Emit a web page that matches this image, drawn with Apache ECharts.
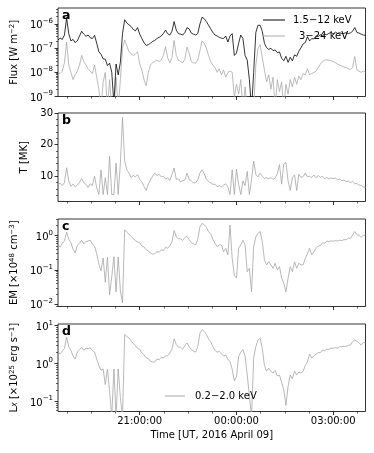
<!DOCTYPE html>
<html>
<head>
<meta charset="utf-8">
<script src="https://cdn.jsdelivr.net/npm/echarts@6/dist/echarts.min.js"></script>
<style>
  html, body { margin: 0; padding: 0; background: #fff; }
  #main { width: 374px; height: 453px; }
</style>
</head>
<body>
<div id="main"></div>
<script>
// one sample every 4 min, 18:28 UT (Apr 08) .. 04:00 UT (Apr 09)
// time axis is in minutes relative to 00:00 UT 2016 April 09
var tStart = -332, tStep = 4;

// panel a: GOES-like fluxes [W m^-2]
var flux1512 = [
  2.2e-7, 2.6e-7, 2.3e-7, 3.5e-7, 1.8e-6, 4.0e-7, 2.0e-7, 2.3e-7, 1.7e-7, 2.0e-7, 3.2e-7, 5.0e-7,
  3.8e-7, 3.1e-7, 3.5e-7, 2.7e-7, 2.5e-7, 3.4e-7, 1.6e-7, 7.1e-8, 5.6e-8, 3.6e-8, 3.5e-8, 1.9e-8,
  2.4e-8, 1.0e-8, 5e-10, 2.2e-8, 7.9e-9, 2.6e-8, 4.0e-7, 1.5e-6, 1.1e-6, 9.3e-7, 7.9e-7, 6.0e-7,
  5.2e-7, 7.1e-7, 3.8e-7, 2.5e-7, 1.7e-7, 1.3e-7, 1.4e-7, 1.6e-7, 1.9e-7, 2.1e-7, 2.5e-7, 2.8e-7,
  3.2e-7, 4.0e-7, 5.6e-7, 4.0e-7, 3.5e-7, 5.0e-7, 1.26e-6, 5.6e-7, 4.0e-7, 3.8e-7, 3.5e-7, 4.5e-7,
  7.1e-7, 6.3e-7, 4.2e-7, 3.8e-7, 3.5e-7, 4.0e-7, 1.0e-6, 1.9e-6, 1.66e-6, 1.26e-6, 8.9e-7, 6.3e-7,
  4.5e-7, 3.5e-7, 3.2e-7, 2.8e-7, 2.6e-7, 2.5e-7, 3.2e-7, 1.8e-7, 3.2e-7, 4.0e-7, 5.0e-8, 6.3e-8,
  1.6e-7, 3.5e-7, 2.5e-7, 5.0e-8, 3.2e-8, 5.0e-9, 3e-10, 1.0e-8, 4.5e-7, 8.9e-7, 8.9e-7, 5.0e-7,
  1.6e-7, 1.05e-7, 8.9e-8, 1.0e-7, 7.9e-8, 8.5e-8, 6.5e-8, 7.0e-8, 3.8e-8, 3.0e-8, 4.6e-8, 2.6e-8,
  4.2e-8, 3.0e-8, 5.3e-8, 4.6e-8, 7.5e-8, 1.05e-7, 1.5e-7, 1.7e-7, 3.0e-7, 2.0e-7, 2.5e-7, 2.4e-7,
  3.2e-7, 3.0e-7, 3.6e-7, 3.3e-7, 3.8e-7, 3.6e-7, 4.1e-7, 4.5e-7, 3.9e-7, 4.6e-7, 4.1e-7, 4.4e-7,
  4.0e-7, 4.1e-7, 4.4e-7, 4.0e-7, 4.3e-7, 5.0e-7, 7.1e-7, 4.5e-7, 4.2e-7, 3.8e-7, 3.5e-7, 3.4e-7
];
var flux324 = [
  1.0e-8, 8.9e-9, 1.12e-8, 2.5e-8, 1.8e-7, 2.0e-8, 1.0e-8, 5.0e-9, 7.9e-9, 1.12e-8, 2.0e-8, 5.0e-8,
  2.8e-8, 2.0e-8, 1.4e-8, 1.12e-8, 8.9e-9, 2.0e-8, 6.3e-9, 2.0e-9, 3e-10, 4.0e-9, 1.0e-8, 3e-10,
  5.0e-9, 3e-10, 3e-10, 6.3e-9, 3e-10, 5.0e-9, 1.0e-7, 2.2e-7, 1.26e-7, 7.1e-8, 6.0e-8, 5.0e-8,
  5.6e-8, 7.1e-8, 2.2e-8, 1.26e-8, 5.0e-9, 2.8e-9, 1.0e-8, 2.0e-8, 2.5e-8, 2.8e-8, 3.2e-8, 2.8e-8,
  3.2e-8, 5.0e-8, 1.15e-7, 4.0e-8, 2.5e-8, 4.0e-8, 2.1e-7, 5.0e-8, 3.2e-8, 2.8e-8, 2.5e-8, 3.5e-8,
  1.12e-7, 6.3e-8, 2.8e-8, 2.5e-8, 2.4e-8, 3.2e-8, 7.9e-8, 2.0e-7, 1.6e-7, 1.0e-7, 5.0e-8, 2.8e-8,
  2.0e-8, 1.6e-8, 1.0e-8, 1.4e-8, 7.9e-9, 1.26e-8, 6.3e-9, 1.0e-8, 1.12e-8, 1.0e-8, 1.0e-9, 3.2e-9,
  1.26e-9, 5.0e-9, 3e-10, 2.5e-9, 3e-10, 3e-10, 3e-10, 3e-10, 2.0e-8, 1.0e-7, 1.4e-7, 4.0e-8,
  1.26e-8, 4.0e-9, 7.9e-9, 2.0e-9, 6.3e-9, 3e-10, 5.0e-9, 1.6e-9, 4.0e-9, 3e-10, 3.2e-9, 1.26e-9,
  5.0e-9, 2.5e-9, 6.3e-9, 3.2e-9, 7.1e-9, 5.0e-9, 8.9e-9, 7.9e-9, 1.4e-8, 7.9e-9, 8.9e-9, 1.0e-8,
  1.12e-8, 1.6e-8, 2.2e-8, 2.8e-8, 3.2e-8, 3.3e-8, 3.2e-8, 3.0e-8, 2.8e-8, 2.5e-8, 2.2e-8, 2.0e-8,
  1.8e-8, 1.66e-8, 1.6e-8, 1.4e-8, 1.3e-8, 1.6e-8, 4.5e-8, 1.26e-8, 1.12e-8, 1.0e-8, 1.12e-8, 1.0e-8
];
// panel b: temperature [MK]
var temperature = [
  7.4, 7.8, 7.0, 8.0, 12.7, 8.5, 6.8, 7.5, 6.6, 7.2, 8.0, 9.3,
  8.0, 7.4, 6.4, 7.6, 7.0, 10.0, 6.3, 4.2, 12.0, 4.2, 9.5, 4.2,
  16.3, 4.2, 4.2, 14.2, 4.2, 14.0, 28.6, 14.8, 12.0, 11.0, 9.5, 10.3,
  9.8, 10.5, 9.0, 8.2, 6.8, 5.5, 7.5, 8.8, 10.0, 11.0, 10.2, 10.6,
  9.8, 10.0, 9.1, 9.5, 8.6, 10.5, 12.6, 9.0, 9.2, 8.2, 8.6, 8.8,
  11.0, 8.9, 8.6, 7.8, 8.0, 8.8, 11.0, 12.0, 10.8, 9.0, 8.3, 7.9,
  7.4, 7.5, 6.7, 7.0, 6.6, 7.2, 7.6, 6.6, 4.2, 12.0, 4.2, 12.2,
  7.4, 4.2, 8.5, 7.0, 11.5, 4.2, 9.0, 14.8, 10.6, 9.8, 11.0, 10.0,
  9.3, 9.5, 9.2, 9.6, 9.0, 9.4, 10.8, 13.7, 7.5, 13.9, 14.4, 8.5,
  5.5, 9.6, 10.4, 5.5, 10.6, 9.6, 9.9, 11.0, 9.8, 10.0, 9.6, 10.4,
  9.5, 10.2, 9.6, 10.0, 9.2, 9.6, 9.1, 9.5, 9.2, 9.4, 8.9, 9.1,
  8.6, 8.8, 8.3, 8.5, 8.0, 8.4, 7.6, 7.7, 7.2, 7.1, 6.6, 6.5
];
// panel c: emission measure [1e48 cm^-3]
var emission = [
  0.54, 0.47, 0.60, 0.71, 1.26, 0.79, 0.63, 0.40, 0.32, 0.52, 0.60, 0.74,
  0.58, 0.68, 0.70, 0.74, 0.58, 0.50, 0.30, 0.15, 0.095, 0.224, 0.044, 0.24,
  0.019, 0.063, 0.245, 0.023, 0.24, 0.025, 0.011, 1.48, 1.26, 1.12, 0.95, 0.83,
  0.72, 0.66, 0.62, 0.50, 0.47, 0.39, 0.36, 0.31, 0.29, 0.30, 0.34, 0.33,
  0.39, 0.37, 0.46, 0.43, 0.51, 0.66, 1.41, 0.93, 0.82, 0.81, 0.73, 0.89,
  0.95, 0.76, 0.63, 0.58, 0.54, 0.79, 1.82, 2.29, 2.09, 1.78, 1.32, 1.12,
  0.79, 0.60, 0.48, 0.54, 0.54, 0.34, 0.43, 0.275, 2.04, 0.22, 0.069, 0.058,
  0.43, 0.54, 0.74, 0.54, 0.089, 0.112, 0.023, 0.48, 0.93, 1.17, 1.32, 0.68,
  0.195, 0.141, 0.174, 0.141, 0.112, 0.158, 0.10, 0.126, 0.058, 0.041, 0.023, 0.058,
  0.126, 0.089, 0.174, 0.112, 0.158, 0.141, 0.141, 0.22, 0.30, 0.43, 0.275, 0.34,
  0.43, 0.50, 0.52, 0.62, 0.60, 0.70, 0.66, 0.71, 0.69, 0.73, 0.70, 0.74,
  0.72, 0.77, 0.76, 0.85, 0.84, 1.05, 1.32, 1.07, 1.02, 0.90, 1.02, 1.05
];
// panel d: soft X-ray luminosity 0.2-2.0 keV [1e25 erg s^-1]
var lumX = [
  2.0, 1.8, 2.15, 2.5, 5.0, 2.8, 2.24, 1.58, 1.32, 2.05, 2.3, 2.7,
  2.25, 2.55, 2.5, 2.6, 2.2, 2.0, 1.32, 0.89, 0.66, 0.72, 0.28, 0.72,
  0.18, 0.04, 0.72, 0.04, 0.72, 0.126, 0.04, 5.9, 5.2, 4.8, 4.0, 3.4,
  3.0, 2.5, 2.4, 1.9, 1.7, 1.42, 1.36, 1.15, 1.1, 1.1, 1.3, 1.28,
  1.45, 1.4, 1.62, 1.6, 1.9, 2.4, 4.5, 3.2, 2.7, 2.7, 2.4, 3.0,
  3.5, 2.8, 2.34, 2.14, 2.0, 2.8, 6.3, 7.9, 7.1, 5.9, 4.5, 3.8,
  2.8, 2.24, 2.0, 2.1, 1.82, 1.58, 1.66, 1.29, 1.12, 0.71, 0.35, 0.45,
  1.55, 2.0, 2.34, 1.58, 0.5, 0.14, 0.04, 1.41, 2.8, 4.2, 4.7, 2.5,
  0.89, 0.63, 0.76, 0.63, 0.56, 0.66, 0.47, 0.5, 0.32, 0.2, 0.079, 0.25,
  0.5, 0.4, 0.63, 0.5, 0.6, 0.56, 0.63, 0.89, 1.12, 1.78, 1.41, 1.58,
  1.78, 1.95, 1.95, 2.25, 2.2, 2.4, 2.35, 2.55, 2.5, 2.65, 2.55, 2.8,
  2.75, 2.85, 2.85, 3.0, 3.1, 3.8, 4.2, 3.9, 3.5, 3.1, 3.6, 3.5
];

// x ticks (minutes from 00:00 UT)
var majorTimes = [-180, 0, 180];
var majorTimeLabels = ['21:00:00', '00:00:00', '03:00:00'];
var minorTimes = [-315, -270, -225, -135, -90, -45, 45, 90, 135, 225];

var FONT = 'DejaVu Sans';
var INK = '#000000';

function toPairs(values) {
  return values.map(function (v, i) { return [tStart + i * tStep, v]; });
}
function logMinors(lo, hi) {
  var out = [];
  for (var e = Math.floor(Math.log10(lo)); e <= Math.ceil(Math.log10(hi)); e++) {
    for (var m = 2; m <= 9; m++) {
      var v = m * Math.pow(10, e);
      if (v > lo && v < hi) out.push(v);
    }
  }
  return out;
}
function powLabel(v) {
  var e = Math.round(Math.log10(v));
  return '{b|10}{s|' + (e < 0 ? '\u2212' + (-e) : e) + '}';
}

var supRich = {
  b: { fontSize: 10, fontFamily: FONT, color: INK, lineHeight: 13, verticalAlign: 'bottom' },
  s: { fontSize: 7, fontFamily: FONT, color: INK, lineHeight: 8, verticalAlign: 'top' },
  sub: { fontSize: 7, fontFamily: FONT, color: INK, fontStyle: 'italic', lineHeight: 8, verticalAlign: 'bottom' }
};

var panels = [
  { top: 8, height: 88.5, type: 'log', min: 1e-9, max: 4.6e-6,
    major: [1e-9, 1e-8, 1e-7, 1e-6], name: 'Flux [W m{s|\u22122}]', gap: 38, letter: 'a' },
  { top: 113, height: 88.5, type: 'value', min: 2, max: 30,
    major: [10, 20, 30], minor: [4, 6, 8, 12, 14, 16, 18, 22, 24, 26, 28], name: 'T [MK]', gap: 22, letter: 'b' },
  { top: 219, height: 87.5, type: 'log', min: Math.pow(10, -2.064), max: Math.pow(10, 0.487),
    major: [0.01, 0.1, 1], name: 'EM [\u00d710{s|48} cm{s|\u22123}]', gap: 38, letter: 'c' },
  { top: 324, height: 87.5, type: 'log', min: Math.pow(10, -1.265), max: Math.pow(10, 1.045),
    major: [0.1, 1, 10], name: 'L{sub|X} [\u00d710{s|25} erg s{s|\u22121}]', gap: 38, letter: 'd' }
];

var grids = [], xAxes = [], yAxes = [], titles = [];
panels.forEach(function (p, i) {
  grids.push({ left: 58, top: p.top, width: 307.5, height: p.height, show: true,
    borderColor: INK, borderWidth: 0.8, backgroundColor: 'transparent' });
  var last = i === panels.length - 1;
  var xBase = { gridIndex: i, type: 'value', min: tStart, max: 240, position: 'bottom',
    axisLine: { show: false, onZero: false }, splitLine: { show: false } };
  xAxes.push(Object.assign({}, xBase, {
    axisTick: { customValues: majorTimes, length: 3.5, lineStyle: { color: INK, width: 0.8 } },
    axisLabel: { show: last, customValues: majorTimes, margin: 5, fontSize: 10, fontFamily: FONT, color: INK,
      formatter: function (v) { return majorTimeLabels[majorTimes.indexOf(Math.round(v))] || ''; } },
    name: last ? 'Time [UT, 2016 April 09]' : '', nameLocation: 'middle', nameGap: 19,
    nameTextStyle: { fontSize: 10, fontFamily: FONT, color: INK }
  }));
  xAxes.push(Object.assign({}, xBase, {
    axisTick: { customValues: minorTimes, length: 2, lineStyle: { color: INK, width: 0.6 } },
    axisLabel: { show: false }
  }));
  var yBase = { gridIndex: i, type: p.type, min: p.min, max: p.max, position: 'left',
    axisLine: { show: false, onZero: false }, splitLine: { show: false } };
  if (p.type === 'log') yBase.logBase = 10;
  yAxes.push(Object.assign({}, yBase, {
    axisTick: { customValues: p.major, length: 3.5, lineStyle: { color: INK, width: 0.8 } },
    axisLabel: { customValues: p.major, margin: 5, fontSize: 10, fontFamily: FONT, color: INK,
      formatter: p.type === 'log' ? powLabel : function (v) { return String(v); }, rich: supRich },
    name: p.name, nameLocation: 'middle', nameRotate: 90, nameGap: p.gap,
    nameTextStyle: { fontSize: 10, fontFamily: FONT, color: INK, rich: supRich }
  }));
  yAxes.push(Object.assign({}, yBase, {
    axisTick: { customValues: p.type === 'log' ? logMinors(p.min, p.max) : p.minor, length: 2,
      lineStyle: { color: INK, width: 0.6 } },
    axisLabel: { show: false }
  }));
  titles.push({ text: p.letter, left: 62, top: p.top + 1, padding: 0,
    textStyle: { fontSize: 12.5, fontWeight: 'bold', fontFamily: FONT, color: INK } });
});

function lineSeries(name, idx, values, color) {
  return { name: name, type: 'line', xAxisIndex: idx * 2, yAxisIndex: idx * 2,
    data: toPairs(values), showSymbol: false, symbol: 'none', color: color,
    lineStyle: { width: 0.8, color: color }, emphasis: { disabled: true } };
}

var legendText = { fontSize: 10, fontFamily: FONT, color: INK };
var option = {
  animation: false,
  backgroundColor: '#ffffff',
  title: titles,
  grid: grids,
  xAxis: xAxes,
  yAxis: yAxes,
  legend: [
    { data: ['1.5\u221212 keV'], left: 263, top: 15, padding: 0, icon: 'rect', itemWidth: 22, itemHeight: 1,
      textStyle: Object.assign({ padding: [0, 0, 0, 3] }, legendText), selectedMode: false },
    { data: ['3\u221224 keV'], left: 263, top: 31, padding: 0, icon: 'rect', itemWidth: 22, itemHeight: 1,
      textStyle: Object.assign({ padding: [0, 0, 0, 9] }, legendText), selectedMode: false },
    { data: ['0.2\u22122.0 keV'], left: 165, top: 391, padding: 0, icon: 'rect', itemWidth: 20, itemHeight: 1,
      textStyle: Object.assign({ padding: [0, 0, 0, 5] }, legendText), selectedMode: false }
  ],
  series: [
    lineSeries('3\u221224 keV', 0, flux324, '#aaaaaa'),
    lineSeries('1.5\u221212 keV', 0, flux1512, '#000000'),
    lineSeries('T', 1, temperature, '#a6a6a6'),
    lineSeries('EM', 2, emission, '#a6a6a6'),
    lineSeries('0.2\u22122.0 keV', 3, lumX, '#a6a6a6')
  ]
};

var chart = echarts.init(document.getElementById('main'));
chart.setOption(option);
</script>
</body>
</html>
